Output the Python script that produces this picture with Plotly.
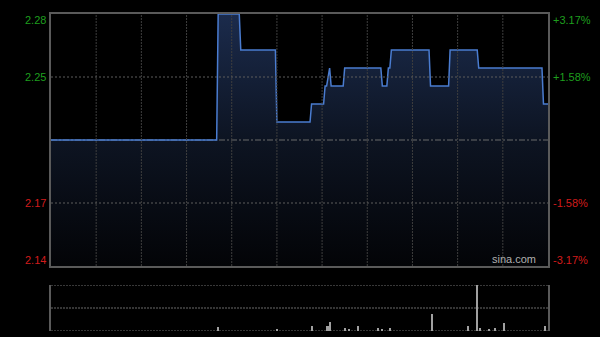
import plotly.graph_objects as go

# ---- data ----
prev_close = 2.21
# price change points (minute index from 09:30, HK session 330 minutes)
price_minutes = [0, 110, 111, 125, 126, 149, 150, 172, 173, 181, 182, 183, 185, 186,
                 194, 195, 219, 220, 223, 224, 225, 226, 251, 252, 264, 265, 283, 284,
                 326, 327, 330]
price_values = [2.21, 2.21, 2.28, 2.28, 2.26, 2.26, 2.22, 2.22, 2.23, 2.23, 2.24, 2.24, 2.25, 2.24,
                2.24, 2.25, 2.25, 2.24, 2.24, 2.25, 2.25, 2.26, 2.26, 2.24, 2.24, 2.26, 2.26, 2.25,
                2.25, 2.23, 2.23]
vol_minutes = [111, 150, 173, 183, 184, 185, 195, 198, 204, 217, 220, 225, 253, 277, 283,
               285, 291, 295, 301, 328]
vol_values = [41000, 15000, 47000, 47000, 47000, 92000, 27000, 20000, 51000, 27000, 15000,
              27000, 175000, 47000, 480000, 27000, 20000, 27000, 82000, 47000]
pct_levels = [3.17, 1.58, -1.58, -3.17]
price_labels = ["2.28", "2.25", "2.17", "2.14"]
pct_labels = ["+3.17%", "+1.58%", "-1.58%", "-3.17%"]
session_minutes = 330
grid_step = 30

# ---- derived ----
max_dev = 0.07
y_top = prev_close + max_dev
y_bot = prev_close - max_dev
vol_max = max(vol_values)
level_prices = [y_top, prev_close + max_dev / 2, prev_close - max_dev / 2, y_bot]

GREEN = "#1e9e1e"
RED = "#d21c1c"
FONT = "Liberation Sans, Arial, sans-serif"

fig = go.Figure()

# gradient area under the price line
fig.add_trace(go.Scatter(
    x=price_minutes, y=price_values, mode="none",
    fill="tozeroy",
    fillgradient=dict(type="vertical", start=y_bot, stop=y_top,
                      colorscale=[[0, "rgb(3,4,7)"], [0.5, "rgb(13,20,34)"], [1, "rgb(27,43,76)"]]),
    hoverinfo="skip", showlegend=False, xaxis="x", yaxis="y"))

# previous close reference line (under the price line)
fig.add_trace(go.Scatter(
    x=[0, session_minutes], y=[prev_close, prev_close], mode="lines",
    line=dict(color="#6a6a6a", width=1, dash="6px,2px,2px,2px"),
    hoverinfo="skip", showlegend=False, xaxis="x", yaxis="y"))

# price line
fig.add_trace(go.Scatter(
    x=price_minutes, y=price_values, mode="lines",
    line=dict(color="#4a7cd0", width=1.5),
    hoverinfo="skip", showlegend=False, xaxis="x", yaxis="y"))

fig.add_trace(go.Bar(
    x=vol_minutes, y=vol_values, width=0.7,
    marker=dict(color="#a0a0a0", line=dict(width=0)),
    hoverinfo="skip", showlegend=False, xaxis="x2", yaxis="y2"))

shapes = []
for m in range(grid_step, session_minutes, grid_step):
    shapes.append(dict(type="line", xref="x", yref="y domain", x0=m, x1=m, y0=0, y1=1,
                       line=dict(color="#3e3e3e", width=1, dash="2px,1px"), layer="above"))
for yv in level_prices[1:3]:
    shapes.append(dict(type="line", xref="x domain", yref="y", x0=0, x1=1, y0=yv, y1=yv,
                       line=dict(color="#5c5c5c", width=1, dash="2px,2px"), layer="above"))
for frac in [0, 0.5, 1]:
    shapes.append(dict(type="line", xref="x2 domain", yref="y2", x0=0, x1=1,
                       y0=vol_max * frac, y1=vol_max * frac,
                       line=dict(color="#6a6a6a", width=1, dash="2px,1px"), layer="below"))

fig.update_layout(
    width=600, height=337,
    margin=dict(l=51, r=52, t=14, b=6),
    paper_bgcolor="black", plot_bgcolor="black",
    font=dict(family=FONT, size=11, color="#aaaaaa"),
    bargap=0,
    xaxis=dict(domain=[0, 1], range=[0, session_minutes],
               showticklabels=False, ticks="", showgrid=False,
               showline=True, linecolor="#5a5a5a", linewidth=1.5, mirror=True,
               zeroline=False, anchor="y"),
    yaxis=dict(domain=[0.205, 1], range=[y_bot, y_top],
               showticklabels=False, ticks="", showgrid=False,
               showline=True, linecolor="#5a5a5a", linewidth=1.5, mirror=True,
               zeroline=False, anchor="x"),
    xaxis2=dict(domain=[0, 1], range=[0, session_minutes], matches="x",
                showticklabels=False, ticks="", showgrid=False, showline=False,
                zeroline=False, anchor="y2"),
    yaxis2=dict(domain=[0, 0.145], range=[0, vol_max],
                showticklabels=False, ticks="", showgrid=False,
                showline=True, linecolor="#5a5a5a", linewidth=1.5, mirror=True,
                zeroline=False, anchor="x2"),
    shapes=shapes,
)

anchors = ["top", "middle", "middle", "bottom"]
yshifts = [2, 0, 0, -2]
for lbl, plbl, yv, pct, anc, ys in zip(price_labels, pct_labels, level_prices, pct_levels,
                                       anchors, yshifts):
    col = GREEN if pct > 0 else RED
    fig.add_annotation(xref="paper", yref="y", x=0, y=yv, text=lbl, showarrow=False,
                       xanchor="right", yanchor=anc, xshift=-3, yshift=ys,
                       font=dict(family=FONT, size=11, color=col))
    fig.add_annotation(xref="paper", yref="y", x=1, y=yv, text=plbl, showarrow=False,
                       xanchor="left", yanchor=anc, xshift=3, yshift=ys,
                       font=dict(family=FONT, size=11, color=col))

fig.add_annotation(xref="paper", yref="y", x=0.98, y=y_bot, text="sina.com", showarrow=False,
                   xanchor="right", yanchor="bottom", yshift=-1,
                   font=dict(family=FONT, size=11, color="#b0b0b0"))

fig.write_html("out.html")
